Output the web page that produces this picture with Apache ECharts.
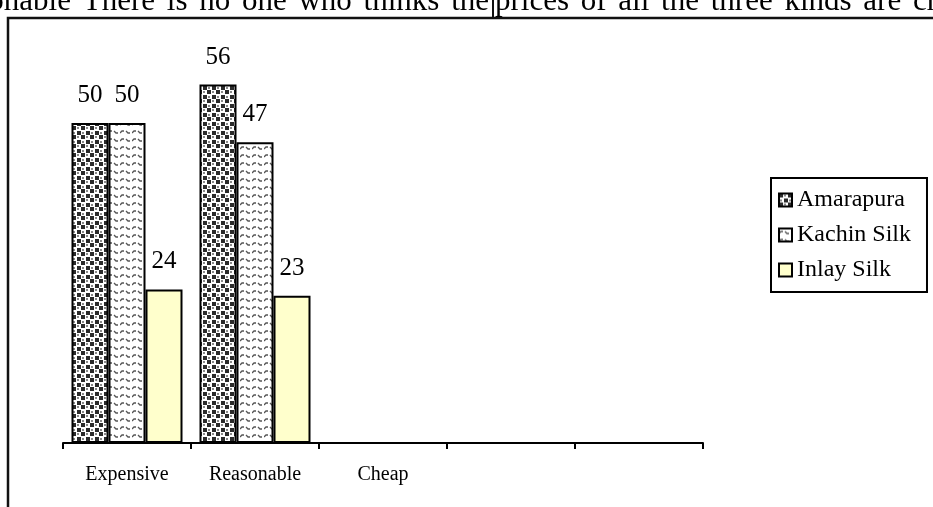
<!DOCTYPE html>
<html>
<head>
<meta charset="utf-8">
<script src="https://cdn.jsdelivr.net/npm/echarts@6/dist/echarts.min.js"></script>
<style>
html,body{margin:0;padding:0;background:#fff;}
#c{width:933px;height:507px;}
</style>
</head>
<body>
<div id="c"></div>
<script>
var categories = ['Expensive', 'Reasonable', 'Cheap', '', ''];
var seriesNames = ['Amarapura', 'Kachin Silk', 'Inlay Silk'];
var amarapura = [50, 56, null, null, null];
var kachinSilk = [50, 47, null, null, null];
var inlaySilk = [24, 23, null, null, null];
var headerLeft = 'onable There is no one who thinks the';
var headerRight = 'prices of all the three kinds are cheap';

function confettiPattern() {
  var c = document.createElement('canvas');
  c.width = 9; c.height = 9;
  var g = c.getContext('2d');
  g.fillStyle = '#fff'; g.fillRect(0, 0, 9, 9);
  g.fillStyle = '#2b2b2b';
  g.fillRect(0, 0, 4, 4);
  g.fillRect(5, 5, 4, 4);
  g.fillStyle = '#8a8a8a';
  g.fillRect(5, 1, 2, 2);
  g.fillRect(1, 6, 2, 2);
  return c;
}
function wavePattern() {
  var c = document.createElement('canvas');
  c.width = 12; c.height = 8;
  var g = c.getContext('2d');
  g.fillStyle = '#fff'; g.fillRect(0, 0, 12, 8);
  g.strokeStyle = '#555';
  g.lineWidth = 1.3;
  g.beginPath();
  g.moveTo(0, 5); g.lineTo(2, 3); g.lineTo(4, 3);
  g.moveTo(6, 3); g.lineTo(8, 5); g.lineTo(10, 5);
  g.stroke();
  return c;
}

var serif = '"Liberation Serif", "Times New Roman", serif';
var headFont = 31;
var headTop = -14;
var extraGap = 4;
var mctx = document.createElement('canvas').getContext('2d');
mctx.font = headFont + 'px ' + serif;
function wordEls(str, anchorX, alignRight) {
  var words = str.split(' ');
  var sp = mctx.measureText(' ').width + extraGap;
  var widths = words.map(function (w) { return mctx.measureText(w).width; });
  var total = widths.reduce(function (a, b) { return a + b; }, 0) + sp * (words.length - 1);
  var x = alignRight ? anchorX - total : anchorX;
  var els = [];
  words.forEach(function (w, i) {
    els.push({ type: 'text', x: x, y: headTop, silent: true,
      style: { text: w, fontFamily: serif, fontSize: headFont, fill: '#000', align: 'left', verticalAlign: 'top' } });
    x += widths[i] + sp;
  });
  return els;
}

var chart = echarts.init(document.getElementById('c'));
var labelCfg = {
  show: true, position: 'top', distance: 15,
  fontFamily: serif, fontSize: 25, color: '#000'
};
function mk(name, data, color) {
  return {
    name: name, type: 'bar', data: data, barWidth: 37, barGap: 0,
    itemStyle: { color: color, borderColor: '#000', borderWidth: 2 },
    label: labelCfg
  };
}
var graphics = [
  { type: 'rect', shape: { x: 8, y: 18, width: 1000, height: 600 },
    style: { fill: 'none', stroke: '#111', lineWidth: 2.5 }, silent: true },
  { type: 'line', shape: { x1: 493, y1: 0, x2: 493, y2: 18 },
    style: { stroke: '#111', lineWidth: 2 }, silent: true }
].concat(wordEls(headerLeft, 489, true)).concat(wordEls(headerRight, 495, false));

chart.setOption({
  animation: false,
  backgroundColor: '#fff',
  grid: { left: 63, right: 230, top: 59, bottom: 64 },
  xAxis: {
    type: 'category', data: categories, boundaryGap: true,
    axisLine: { lineStyle: { color: '#000', width: 2 } },
    axisTick: { show: true, length: 6, lineStyle: { color: '#000', width: 2 } },
    axisLabel: { margin: 22, fontFamily: serif, fontSize: 20, color: '#000', interval: 0 }
  },
  yAxis: { type: 'value', min: 0, max: 60, show: false, splitLine: { show: false } },
  legend: {
    orient: 'vertical', left: 771, top: 178,
    padding: [10, 16, 10, 7],
    itemGap: 11,
    itemWidth: 13, itemHeight: 13,
    itemTextGap: 8,
    borderColor: '#000', borderWidth: 2,
    icon: 'rect',
    itemStyle: { borderColor: '#000', borderWidth: 2 },
    textStyle: { fontFamily: serif, fontSize: 24, color: '#000' },
    data: seriesNames
  },
  series: [
    mk(seriesNames[0], amarapura, { image: confettiPattern(), repeat: 'repeat' }),
    mk(seriesNames[1], kachinSilk, { image: wavePattern(), repeat: 'repeat' }),
    mk(seriesNames[2], inlaySilk, '#FFFFCC')
  ],
  graphic: graphics
});
</script>
</body>
</html>
